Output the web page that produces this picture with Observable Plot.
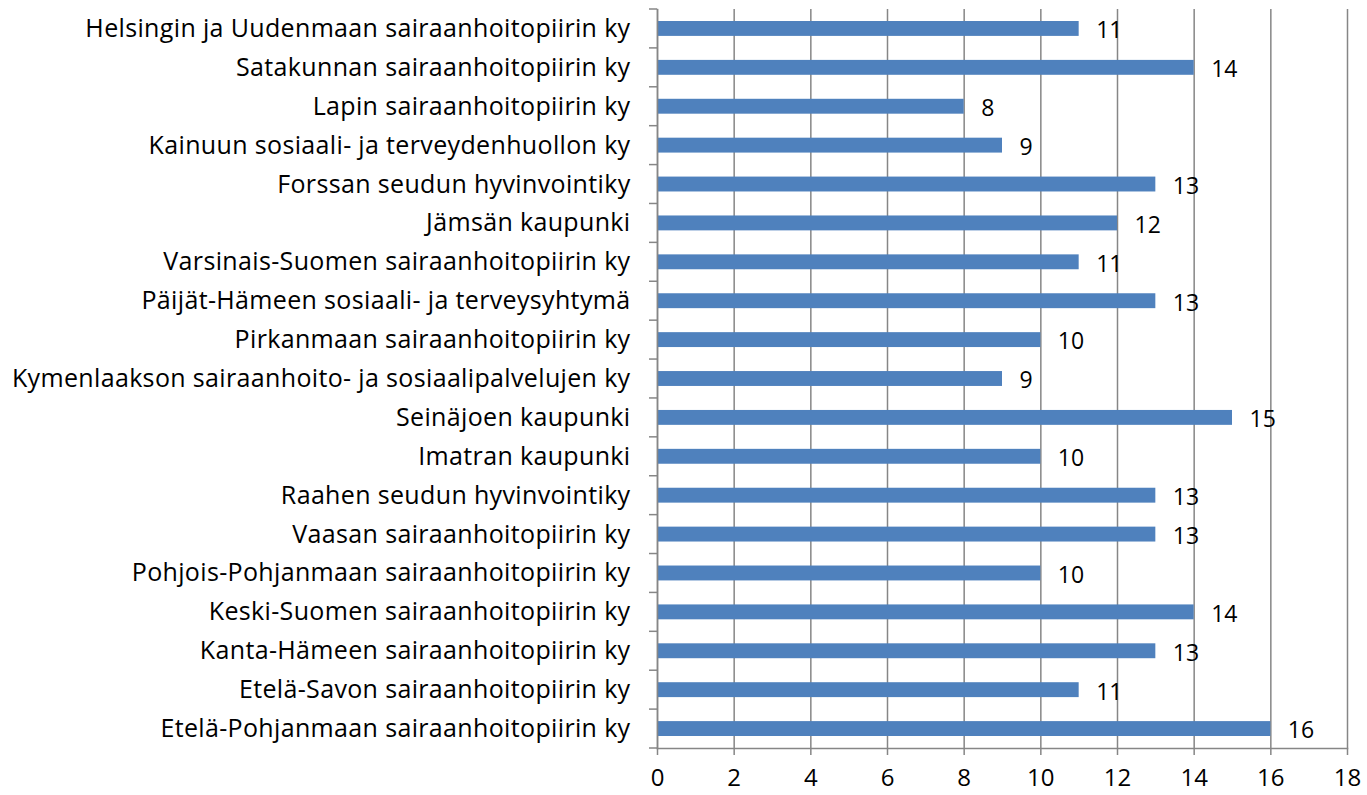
<!DOCTYPE html>
<html>
<head>
<meta charset="utf-8">
<script src="https://cdn.jsdelivr.net/npm/d3@7"></script>
<script src="https://cdn.jsdelivr.net/npm/@observablehq/plot@0.6"></script>
<style>
  html, body { margin: 0; padding: 0; background: #fff; }
  #chart svg { display: block; }
  #chart g[aria-label="y-axis tick label"] text { letter-spacing: 0.35px; }
</style>
</head>
<body>
<div id="chart"></div>
<script>
const categories = [
  "Helsingin ja Uudenmaan sairaanhoitopiirin ky",
  "Satakunnan sairaanhoitopiirin ky",
  "Lapin sairaanhoitopiirin ky",
  "Kainuun sosiaali- ja terveydenhuollon ky",
  "Forssan seudun hyvinvointiky",
  "Jämsän kaupunki",
  "Varsinais-Suomen sairaanhoitopiirin ky",
  "Päijät-Hämeen sosiaali- ja terveysyhtymä",
  "Pirkanmaan sairaanhoitopiirin ky",
  "Kymenlaakson sairaanhoito- ja sosiaalipalvelujen ky",
  "Seinäjoen kaupunki",
  "Imatran kaupunki",
  "Raahen seudun hyvinvointiky",
  "Vaasan sairaanhoitopiirin ky",
  "Pohjois-Pohjanmaan sairaanhoitopiirin ky",
  "Keski-Suomen sairaanhoitopiirin ky",
  "Kanta-Hämeen sairaanhoitopiirin ky",
  "Etelä-Savon sairaanhoitopiirin ky",
  "Etelä-Pohjanmaan sairaanhoitopiirin ky"
];
const values = [11, 14, 8, 9, 13, 12, 11, 13, 10, 9, 15, 10, 13, 13, 10, 14, 13, 11, 16];
const xTicks = [0, 2, 4, 6, 8, 10, 12, 14, 16, 18];

const data = categories.map((c, i) => ({category: c, value: values[i]}));

const W = 1367, H = 795;
const mTop = 9, mBottom = 47, mLeft = 657, mRight = 20;
const gridColor = "#868686";
const font = "'Open Sans', Lato, sans-serif";
const fs = 23;

// left-side category boundary ticks
function boundaryTicks(index, scales, values, dims) {
  const g = d3.create("svg:g");
  const y = scales.y;
  const x0 = scales.x(0);
  const ys = categories.map(c => y(c));
  const step = ys.length > 1 ? ys[1] - ys[0] : 0;
  const all = ys.concat([ys[ys.length - 1] + step]);
  for (const yy of all) {
    g.append("line")
      .attr("x1", x0 - 8).attr("x2", x0)
      .attr("y1", yy).attr("y2", yy)
      .attr("stroke", gridColor).attr("stroke-width", 1.5);
  }
  return g.node();
}

const chart = Plot.plot({
  width: W,
  height: H,
  marginTop: mTop,
  marginBottom: mBottom,
  marginLeft: mLeft,
  marginRight: mRight,
  style: {fontFamily: font, background: "#fff", color: "#000"},
  x: {domain: [0, 18], label: null},
  y: {domain: categories, padding: 0, round: false, label: null},
  marks: [
    Plot.gridX(xTicks, {stroke: gridColor, strokeOpacity: 1, strokeWidth: 1.5}),
    Plot.barX(data, {x: "value", y: "category", fill: "#4F81BD", insetTop: 12, insetBottom: 12}),
    Plot.frame({anchor: "bottom", stroke: gridColor, strokeWidth: 1.5}),
    Plot.frame({anchor: "left", stroke: gridColor, strokeWidth: 1.5}),
    boundaryTicks,
    Plot.axisX({ticks: xTicks, tickSize: 7, tickPadding: 13, fontSize: 24, stroke: gridColor, strokeWidth: 1.5, tickFormat: d => String(d), color: "#000", label: null}),
    Plot.axisY({tickSize: 0, tickPadding: 27, fontSize: 25, color: "#000", textAnchor: "end", label: null}),
    Plot.text(data, {x: "value", y: "category", text: d => String(d.value), dx: 17, dy: 2, textAnchor: "start", fontSize: fs, fill: "#000"})
  ]
});

document.getElementById("chart").appendChild(chart);
</script>
</body>
</html>
